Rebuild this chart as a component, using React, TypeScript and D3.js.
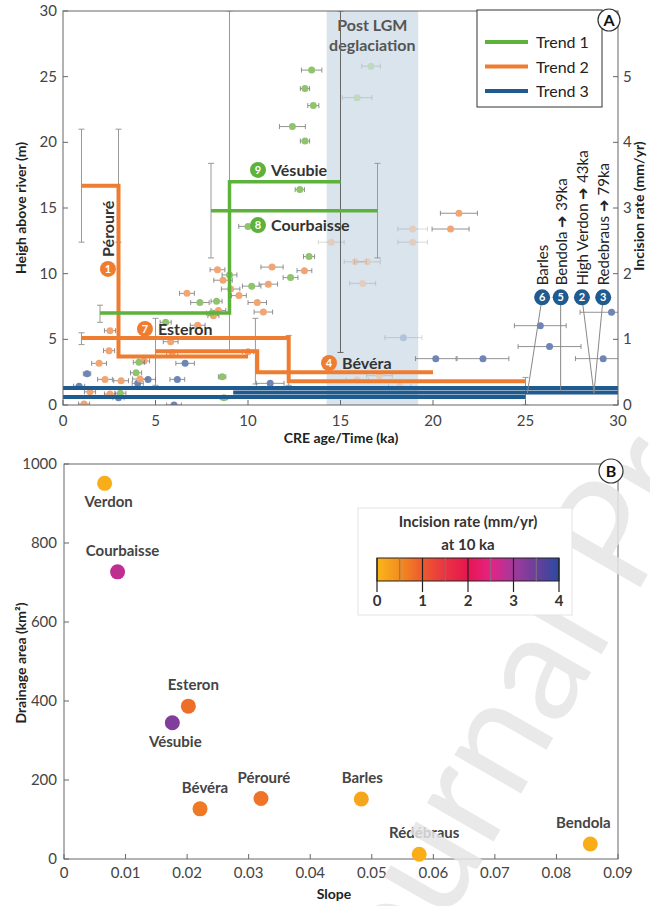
import * as React from 'react';
import * as d3 from 'd3';

// ---------- panel A data ----------
const ageTicks = [0, 5, 10, 15, 20, 25, 30];
const heightTicks = [0, 5, 10, 15, 20, 25, 30];
const rateTicks = [0, 1, 2, 3, 4, 5];

// [CRE age (ka), height above river (m), age error (ka)]
const trend1Points = [
    [13.44, 25.5, 0.55], [13.08, 24.1, 0.25], [13.53, 22.8, 0.3], [12.4, 21.2, 0.7], [13.08, 20.1, 0.25],
    [12.8, 16.4, 0.25], [10.0, 13.6, 0.5], [16.65, 25.8, 0.5], [15.9, 23.4, 0.8],
    [13.3, 11.3, 0.3], [12.3, 9.7, 0.4], [10.2, 9.05, 0.5], [9.0, 9.9, 0.4], [8.3, 7.9, 0.3],
    [7.4, 7.8, 0.5], [8.05, 7.0, 0.3], [5.55, 6.3, 0.3], [4.1, 3.25, 0.3], [3.95, 2.45, 0.3],
    [8.6, 2.15, 0.2], [3.1, 0.9, 0.3], [8.7, 0.55, 0.2]
];
const trend2Points = [
    [8.35, 10.3, 0.4], [8.65, 9.5, 0.5], [6.7, 8.5, 0.4], [8.4, 7.2, 0.4], [8.13, 6.8, 0.3], [7.28, 6.07, 0.4],
    [5.82, 4.82, 0.4], [5.9, 4.0, 0.3], [4.38, 3.35, 0.3], [1.95, 3.17, 0.4], [2.49, 4.14, 0.3], [2.54, 5.66, 0.3],
    [2.27, 1.95, 0.4], [3.14, 1.85, 0.4], [4.16, 1.98, 0.4], [1.46, 1.0, 0.3], [2.54, 0.84, 0.3], [1.14, 0.08, 0.3],
    [9.06, 8.83, 0.5], [9.51, 8.33, 0.4], [10.5, 7.8, 0.5], [10.83, 7.08, 0.5], [11.3, 10.5, 0.6], [11.1, 9.2, 0.5],
    [13.05, 10.23, 0.4], [10.0, 4.06, 0.3],
    [21.4, 14.6, 1.0], [20.95, 13.4, 1.0], [18.9, 13.4, 0.8], [18.9, 12.4, 0.8], [14.5, 12.4, 0.7],
    [15.8, 10.9, 0.6], [16.45, 10.9, 0.7], [16.2, 9.26, 0.7], [15.9, 1.9, 0.6], [17.1, 2.23, 0.7], [18.2, 1.4, 0.6]
];
const trend3Points = [
    [1.3, 2.38, 0.2], [0.87, 1.43, 0.3], [3.0, 0.55, 0.3], [4.04, 1.65, 0.3], [4.6, 1.95, 0.4], [6.18, 1.95, 0.4],
    [6.6, 3.17, 0.5], [6.0, 0.0, 0.4], [11.2, 1.65, 0.75], [18.4, 5.13, 1.0], [20.15, 3.53, 1.1], [22.7, 3.53, 1.4],
    [25.8, 6.04, 1.4], [26.3, 4.45, 1.7], [29.65, 7.06, 1.7], [29.2, 3.53, 1.5]
];

// step trends [age, height]
const vesubieTrend = [[2, 7], [9, 7], [9, 17], [15, 17]];
const courbaisseTrend = [[8, 14.8], [17, 14.8]];
const peroureTrend = [[1, 16.7], [3, 16.7], [3, 3.7], [10, 3.7]];
const esteronTrend = [[1, 5.1], [12.2, 5.1], [12.2, 1.8], [25, 1.8]];
const beveraTrend = [[5, 4.1], [10.5, 4.1], [10.5, 2.5], [20, 2.5]];
const blueTrends = [[[0, 1.3], [30, 1.3]], [[9.2, 0.95], [30, 0.95]], [[0, 0.6], [25, 0.6]]];

// vertical uncertainty bars on trends [age, low, high]
const trendBars = [
    [1, 12.4, 21], [3, 12.4, 21], [9, 4, 30], [15, 4, 30], [2, 6.3, 7.6], [8, 11.2, 18.4], [17, 11.2, 18.4],
    [1, 4.6, 5.5], [12.2, 1.5, 5.3], [5, 1.5, 6.6], [10.4, 1.6, 6.6], [25, 0, 2.1]
];

const deglaciation = [14.25, 19.2];

const trendNames = ["Trend 1", "Trend 2", "Trend 3"];
const trendColors = ["#5cb23a", "#ef7d31", "#1f5b8e"];
const pointColors = ["#8fc46c", "#f2a572", "#6d86b6"];

// river labels [number, name, age, height, trend]
const riverLabels: [string, string, number, number, number][] = [
    ["9", "Vésubie", 10.54, 17.9, 0],
    ["8", "Courbaisse", 10.54, 13.7, 0],
    ["7", "Esteron", 4.43, 5.79, 1],
    ["4", "Bévéra", 14.38, 3.2, 1],
];
// [number, label, circle age, target age]
const oldRivers: [string, string, number, number][] = [
    ["6", "Barles", 25.9, 25.1],
    ["5", "Bendola ➜ 39ka", 26.9, 26.9],
    ["2", "High Verdon ➜ 43ka", 28.05, 28.7],
    ["3", "Redebraus ➜ 79ka", 29.2, 28.7],
];

// ---------- panel B data ----------
const rivers = ["Verdon", "Courbaisse", "Esteron", "Vésubie", "Bévéra", "Pérouré", "Barles", "Rédébraus", "Bendola"];
const slopes = [0.0066, 0.0087, 0.0202, 0.0176, 0.0221, 0.032, 0.0483, 0.0577, 0.0855];
const areas = [951, 727, 387, 345, 127, 153, 152, 12, 38];
const rates10ka = [0.1, 2.8, 0.8, 3.3, 0.7, 0.75, 0.2, 0.1, 0.1];
const labelSide = [1, -1, -1, 1, -1, -1, -1, -1, -1];
const labelShift = [4, 5, 5, 3, 5, 3, 1, 5, -7];
const slopeTicks = [0, 0.01, 0.02, 0.03, 0.04, 0.05, 0.06, 0.07, 0.08, 0.09];
const areaTicks = [0, 200, 400, 600, 800, 1000];
const rateStops = [0, 0.5, 1, 1.5, 2, 2.5, 3, 3.5, 4];
const rateColors = ["#fbb617", "#f28d21", "#ec5a2e", "#ea3342", "#e5164f", "#e62386", "#a2399a", "#6a3f9c", "#2c4aa0"];
const cbTicks = [0, 1, 2, 3, 4];

const font = "Lato, 'Open Sans', sans-serif";

export default function App() {
    const x = d3.scaleLinear().domain([0, 30]).range([63, 618]);
    const y = d3.scaleLinear().domain([0, 30]).range([405, 11]);
    const yR = d3.scaleLinear().domain([0, 6]).range([405, 11]);
    const xB = d3.scaleLinear().domain([0, 0.09]).range([64, 618]);
    const yB = d3.scaleLinear().domain([0, 1000]).range([859, 464]);
    const cb = d3.scaleLinear().domain([0, 4]).range([377, 559]);
    const rateColor = d3.scaleLinear<string>().domain(rateStops).range(rateColors).interpolate(d3.interpolateRgb);
    const line = d3.line<number[]>().x(d => x(d[0])).y(d => y(d[1]));

    const inBand = (a: number) => a > deglaciation[0] && a < deglaciation[1];

    const drawPoints = (pts: number[][], color: string, key: string) =>
        pts.map((p, i) => {
            const op = inBand(p[0]) ? 0.35 : 1;
            return (
                <g key={key + i} opacity={op}>
                    <line x1={x(p[0] - p[2])} x2={x(p[0] + p[2])} y1={y(p[1])} y2={y(p[1])} stroke="#777" strokeWidth={0.8} />
                    <line x1={x(p[0] - p[2])} x2={x(p[0] - p[2])} y1={y(p[1]) - 2.5} y2={y(p[1]) + 2.5} stroke="#777" strokeWidth={0.8} />
                    <line x1={x(p[0] + p[2])} x2={x(p[0] + p[2])} y1={y(p[1]) - 2.5} y2={y(p[1]) + 2.5} stroke="#777" strokeWidth={0.8} />
                    <circle cx={x(p[0])} cy={y(p[1])} r={3.5} fill={color} />
                </g>
            );
        });

    return (
        <svg width={650} height={906} style={{position: 'absolute', left: 0, top: 0, background: '#fff'}} fontFamily={font}>
            <defs>
                <clipPath id="clipA"><rect x={63} y={11} width={555} height={394} /></clipPath>
                <clipPath id="clipPage"><rect x={0} y={0} width={650} height={906} /></clipPath>
                <linearGradient id="cbGrad" x1="0" x2="1" y1="0" y2="0">
                    {rateStops.map((s, i) => <stop key={i} offset={s / 4} stopColor={rateColors[i]} />)}
                </linearGradient>
            </defs>

            {/* ======== PANEL A ======== */}
            <rect x={x(deglaciation[0])} y={y(30)} width={x(deglaciation[1]) - x(deglaciation[0])} height={y(0) - y(30)} fill="#dae4ed" />
            <text x={x(16.72)} y={31} textAnchor="middle" fontSize={16} fontWeight={700} fill="#555">Post LGM</text>
            <text x={x(16.72)} y={51} textAnchor="middle" fontSize={16} fontWeight={700} fill="#555">deglaciation</text>

            <g clipPath="url(#clipA)">
                {trendBars.map((b, i) => (
                    <g key={'tb' + i} stroke={b[0] === 15 ? "#666" : "#999"} strokeWidth={1}>
                        <line x1={x(b[0])} x2={x(b[0])} y1={y(b[1])} y2={y(b[2])} />
                        <line x1={x(b[0]) - 3} x2={x(b[0]) + 3} y1={y(b[1])} y2={y(b[1])} />
                        <line x1={x(b[0]) - 3} x2={x(b[0]) + 3} y1={y(b[2])} y2={y(b[2])} />
                    </g>
                ))}
                {drawPoints(trend3Points, pointColors[2], 'b')}
                {drawPoints(trend2Points, pointColors[1], 'o')}
                {drawPoints(trend1Points, pointColors[0], 'g')}

                {blueTrends.map((t, i) => (
                    <path key={'bt' + i} d={line(t) || ''} fill="none" stroke={trendColors[2]} strokeWidth={4} />
                ))}
                {[peroureTrend, esteronTrend, beveraTrend].map((t, i) => (
                    <path key={'ot' + i} d={line(t) || ''} fill="none" stroke={trendColors[1]} strokeWidth={4} />
                ))}
                {[vesubieTrend, courbaisseTrend].map((t, i) => (
                    <path key={'gt' + i} d={line(t) || ''} fill="none" stroke={trendColors[0]} strokeWidth={3.5} />
                ))}

                {oldRivers.map((r, i) => (
                    <line key={'ol' + i} x1={x(r[2])} y1={y(8.2)} x2={x(r[3])} y2={y(r[3] > 26 && r[3] < 27 ? 1.1 : 0.9)} stroke="#888" strokeWidth={1} />
                ))}
            </g>

            {/* river labels */}
            {riverLabels.map((r, i) => (
                <g key={'rl' + i}>
                    <circle cx={x(r[2])} cy={y(r[3])} r={8} fill={trendColors[r[4] === 0 ? 0 : 1]} />
                    <text x={x(r[2])} y={y(r[3]) + 4} textAnchor="middle" fontSize={11} fontWeight={700} fill="#fff">{r[0]}</text>
                    <text x={x(r[2]) + 13} y={y(r[3]) + 6} fontSize={16} fontWeight={700} fill="#333">{r[1]}</text>
                </g>
            ))}
            <g>
                <circle cx={x(2.43)} cy={y(10.36)} r={8} fill={trendColors[1]} />
                <text x={x(2.43)} y={y(10.36) + 4} textAnchor="middle" fontSize={11} fontWeight={700} fill="#fff">1</text>
                <text transform={`translate(${x(2.43) + 6},${y(10.36) - 12}) rotate(-90)`} fontSize={16} fontWeight={700} fill="#333">Pérouré</text>
            </g>
            {oldRivers.map((r, i) => (
                <g key={'or' + i}>
                    <circle cx={x(r[2])} cy={y(8.2)} r={8} fill={trendColors[2]} />
                    <text x={x(r[2])} y={y(8.2) + 4} textAnchor="middle" fontSize={11} fontWeight={700} fill="#fff">{r[0]}</text>
                    <text transform={`translate(${x(r[2]) + 6},${y(8.2) - 12}) rotate(-90)`} fontSize={15} fill="#222">{r[1]}</text>
                </g>
            ))}

            {/* axes A */}
            <rect x={63} y={11} width={555} height={394} fill="none" stroke="#666" strokeWidth={1} />
            {ageTicks.map(t => (
                <g key={'ax' + t}>
                    <line x1={x(t)} x2={x(t)} y1={405} y2={400} stroke="#666" />
                    <text x={x(t)} y={426} textAnchor="middle" fontSize={15} fill="#444">{t}</text>
                </g>
            ))}
            {heightTicks.map(t => (
                <g key={'ay' + t}>
                    <line x1={63} x2={68} y1={y(t)} y2={y(t)} stroke="#666" />
                    <text x={57} y={y(t) + 5} textAnchor="end" fontSize={15} fill="#444">{t}</text>
                </g>
            ))}
            {rateTicks.map(t => (
                <g key={'ar' + t}>
                    <line x1={618} x2={613} y1={yR(t)} y2={yR(t)} stroke="#666" />
                    <text x={623} y={yR(t) + 5} fontSize={15} fill="#444">{t}</text>
                </g>
            ))}
            <text x={341} y={443} textAnchor="middle" fontSize={14} fontWeight={700} fill="#222">CRE age/Time (ka)</text>
            <text transform="translate(20,208) rotate(-90)" dominantBaseline="central" textAnchor="middle" fontSize={14} fontWeight={700} fill="#222">Heigh above river (m)</text>
            <text transform="translate(638,206) rotate(-90)" dominantBaseline="central" textAnchor="middle" fontSize={14} fontWeight={700} fill="#222">Incision rate (mm/yr)</text>

            {/* legend A */}
            <rect x={477} y={10} width={125} height={97} fill="#fff" stroke="#333" strokeWidth={1} />
            {trendNames.map((n, i) => (
                <g key={'lg' + i}>
                    <line x1={485} x2={528} y1={42 + i * 24.5} y2={42 + i * 24.5} stroke={trendColors[i]} strokeWidth={4} />
                    <text x={536} y={42 + i * 24.5 + 6} fontSize={16} fill="#222">{n}</text>
                </g>
            ))}
            <circle cx={609} cy={20} r={11} fill="#fff" stroke="#333" strokeWidth={1.2} />
            <text x={609} y={26} textAnchor="middle" fontSize={16} fontWeight={700} fill="#111">A</text>

            {/* ======== PANEL B ======== */}
            <rect x={64} y={464} width={554} height={395} fill="none" stroke="#666" strokeWidth={1} />
            {slopeTicks.map(t => (
                <g key={'bx' + t}>
                    <line x1={xB(t)} x2={xB(t)} y1={859} y2={854} stroke="#666" />
                    <text x={xB(t)} y={878} textAnchor="middle" fontSize={15} fill="#444">{t === 0 ? "0" : d3.format(".2f")(t)}</text>
                </g>
            ))}
            {areaTicks.map(t => (
                <g key={'by' + t}>
                    <line x1={64} x2={69} y1={yB(t)} y2={yB(t)} stroke="#666" />
                    <text x={57} y={yB(t) + 5} textAnchor="end" fontSize={15} fill="#444">{t}</text>
                </g>
            ))}
            <text x={334} y={899} textAnchor="middle" fontSize={14} fontWeight={700} fill="#222">Slope</text>
            <text transform="translate(20,663) rotate(-90)" dominantBaseline="central" textAnchor="middle" fontSize={14} fontWeight={700} fill="#222">Drainage area (km²)</text>

            {rivers.map((r, i) => (
                <g key={'rv' + i}>
                    <circle cx={xB(slopes[i])} cy={yB(areas[i])} r={7.5} fill={rateColor(rates10ka[i])} />
                    <text x={xB(slopes[i]) + labelShift[i]} y={yB(areas[i]) + (labelSide[i] > 0 ? 24 : -16)} textAnchor="middle" fontSize={15} fontWeight={700} fill="#444">{r}</text>
                </g>
            ))}

            {/* watermark */}
            <g clipPath="url(#clipPage)">
                <text transform="translate(372,1052) rotate(-60)" fontSize={152} fill="#e6e6e6" opacity={0.85}>Journal Pre-proof</text>
            </g>

            {/* colour bar */}
            <rect x={358} y={508} width={214} height={107} fill="#fff" stroke="#e4e4e4" strokeWidth={1} />
            <text x={468} y={527} textAnchor="middle" fontSize={15} fontWeight={700} fill="#333">Incision rate (mm/yr)</text>
            <text x={468} y={550} textAnchor="middle" fontSize={15} fontWeight={700} fill="#333">at 10 ka</text>
            <rect x={cb(0)} y={558} width={cb(4) - cb(0)} height={23} fill="url(#cbGrad)" stroke="#222" strokeWidth={1} />
            {rateStops.filter(s => s % 1 !== 0).map(s => (
                <line key={'cm' + s} x1={cb(s)} x2={cb(s)} y1={558} y2={581} stroke="#777" strokeWidth={1} />
            ))}
            {cbTicks.map(t => (
                <g key={'ct' + t}>
                    <line x1={cb(t)} x2={cb(t)} y1={558} y2={592} stroke="#222" strokeWidth={1.2} />
                    <text x={cb(t)} y={606} textAnchor="middle" fontSize={15} fontWeight={700} fill="#333">{t}</text>
                </g>
            ))}
            <circle cx={611} cy={471} r={12} fill="#fff" stroke="#333" strokeWidth={1.2} />
            <text x={611} y={477} textAnchor="middle" fontSize={16} fontWeight={700} fill="#111">B</text>
        </svg>
    );
}
